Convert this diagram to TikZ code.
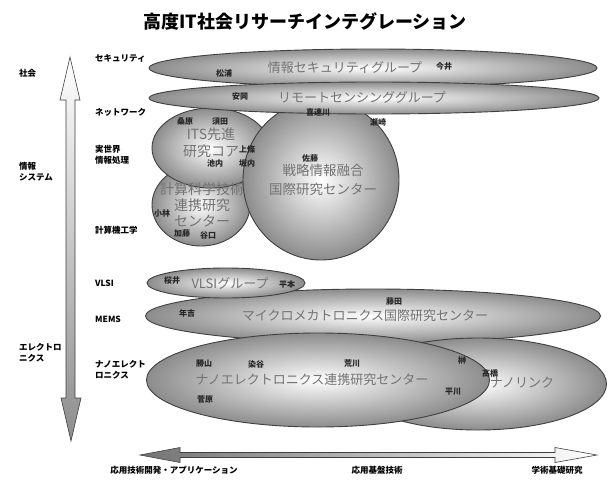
\documentclass[tikz,border=0pt]{standalone}
\usepackage{fontspec}
\setmainfont{Noto Sans CJK JP}
\usetikzlibrary{shapes.geometric}
\begin{document}
\begin{tikzpicture}[x=1pt,y=-1pt,
 blob/.style={ellipse, draw=black!75, line width=0.9pt, inner color=white, outer color=black!45, inner sep=0},
 big/.style={font=\fontsize{13}{15}\selectfont, text=black!55, inner sep=0, align=center},
 nm/.style={font=\fontsize{8}{9}\selectfont\bfseries, text=black!85, inner sep=0},
 cat/.style={font=\fontsize{8.5}{11}\selectfont\bfseries, anchor=west, align=left, inner sep=0},
 axl/.style={font=\fontsize{8.5}{11}\selectfont\bfseries, inner sep=0},
]
\useasboundingbox[fill=white] (0,0) rectangle (609,479);

% title
\node[font=\fontsize{18}{20}\selectfont\bfseries, inner sep=0] (title) at (305,21) {高度IT社会リサーチインテグレーション};

% left axis arrow
\shade[top color=white, bottom color=black!45, draw=black!75, line width=0.6pt]
  (70,57) -- (80,100) -- (75,100) -- (75,398) -- (81,398) -- (71,441) -- (61,398) -- (66,398) -- (66,100) -- (60,100) -- cycle;
\node[axl, anchor=west, align=left] (ax1) at (19,73) {社会};
\node[axl, anchor=west, align=left] (ax2) at (19,172) {情報\\システム};
\node[axl, anchor=west, align=left] (ax3) at (19,353) {エレクトロ\\ニクス};

% bottom axis arrow
\shade[left color=black!55, right color=white, draw=black!75, line width=0.6pt]
  (140,455) -- (180,447.5) -- (180,452.5) -- (555,452.5) -- (555,447.5) -- (597,455) -- (555,462.5) -- (555,457.5) -- (180,457.5) -- (180,462.5) -- cycle;
\node[axl] (bx1) at (174,470) {応用技術開発・アプリケーション};
\node[axl] (bx2) at (377,470) {応用基盤技術};
\node[axl] (bx3) at (557,470) {学術基礎研究};

% category labels
\node[cat] (c1) at (95,58) {セキュリティ};
\node[cat] (c2) at (95,112) {ネットワーク};
\node[cat] (c3) at (95,155) {実世界\\情報処理};
\node[cat] (c4) at (95,230) {計算機工学};
\node[cat] (c5) at (95,283) {VLSI};
\node[cat] (c6) at (95,319) {MEMS};
\node[cat] (c7) at (95,370) {ナノエレクト\\ロニクス};

% ellipses
\node[blob, minimum width=98, minimum height=82] (cst) at (201,205) {};
\node[blob, minimum width=118, minimum height=80] (its) at (211,148) {};
\node[blob, minimum width=156, minimum height=160] (sc) at (321,180) {};
\node[blob, minimum width=448, minimum height=38] (sec) at (373,68) {};
\node[blob, minimum width=450, minimum height=32] (rs) at (374,98) {};
\node[blob, minimum width=455, minimum height=54] (mems) at (373,316) {};
\node[blob, minimum width=158, minimum height=30] (vlsi) at (226,283) {};
\node[blob, minimum width=257, minimum height=92] (nl) at (478,384) {};
\node[blob, minimum width=343, minimum height=94] (ne) at (318,380) {};

% big texts
\node[big] (t1) at (345,68) {情報セキュリティグループ};
\node[big] (t2) at (362,97) {リモートセンシンググループ};
\node[big, font=\fontsize{14}{17}\selectfont] (t3) at (211,143) {ITS先進\\研究コア};
\node[big, font=\fontsize{14}{16}\selectfont] (t4) at (202,205) {計算科学技術\\連携研究\\センター};
\node[big, font=\fontsize{13.5}{19}\selectfont] (t5) at (323,180) {戦略情報融合\\国際研究センター};
\node[big] (t6) at (230,283) {VLSIグループ};
\node[big] (t7) at (365,316) {マイクロメカトロニクス国際研究センター};
\node[big] (t8) at (312,380) {ナノエレクトロニクス連携研究センター};
\node[big] (t9) at (522,383) {ナノリンク};

% names
\node[nm] (n1) at (224,73) {松浦};
\node[nm] (n2) at (444,66) {今井};
\node[nm] (n3) at (240,96) {安岡};
\node[nm] (n4) at (318,112) {喜連川};
\node[nm] (n5) at (378,122) {瀬崎};
\node[nm] (n6) at (185,122) {桑原};
\node[nm] (n7) at (220,122) {須田};
\node[nm] (n8) at (247,149) {上條};
\node[nm] (n9) at (215,163) {池内};
\node[nm] (n10) at (247,163) {坂内};
\node[nm] (n11) at (310,158) {佐藤};
\node[nm] (n12) at (162,213) {小林};
\node[nm] (n13) at (182,233) {加藤};
\node[nm] (n14) at (208,235) {谷口};
\node[nm] (n15) at (172,280) {桜井};
\node[nm] (n16) at (287,284) {平本};
\node[nm] (n17) at (187,313) {年吉};
\node[nm] (n18) at (394,301) {藤田};
\node[nm] (n19) at (204,363) {勝山};
\node[nm] (n20) at (256,364) {染谷};
\node[nm] (n21) at (352,363) {荒川};
\node[nm] (n22) at (462,360) {榊};
\node[nm] (n23) at (490,373) {高橋};
\node[nm] (n24) at (453,392) {平川};
\node[nm] (n25) at (205,399) {菅原};
\end{tikzpicture}
\end{document}
